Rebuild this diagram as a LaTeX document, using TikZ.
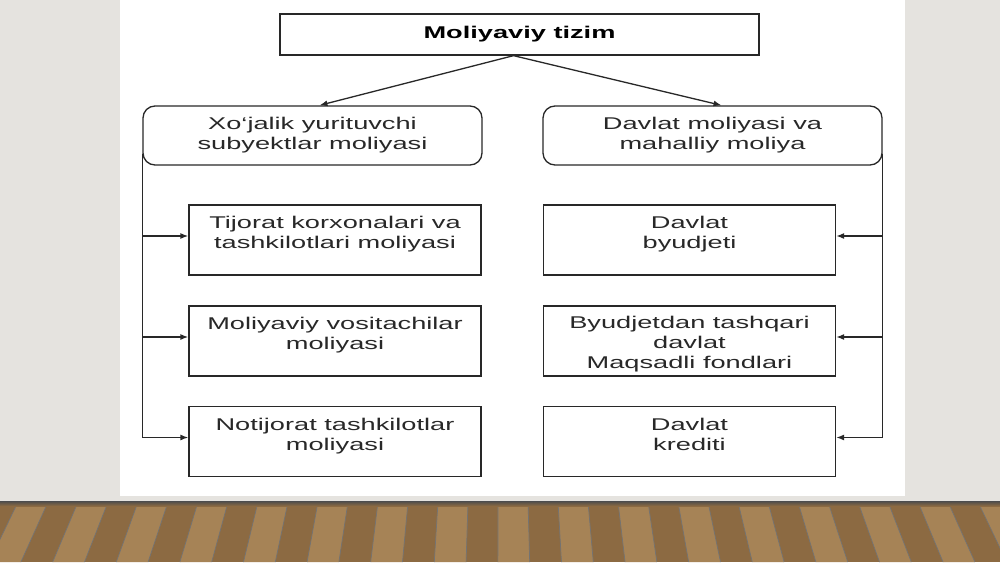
\documentclass[tikz,border=0pt]{standalone}
\usepackage{fontspec}
\setmainfont{Liberation Sans}
\newfontfamily\slidefont[FakeStretch=1.6]{Liberation Sans}
\usetikzlibrary{positioning,arrows.meta}
\definecolor{wall}{RGB}{229,227,223}
\definecolor{wood}{RGB}{140,106,66}
\definecolor{lightwood}{RGB}{166,131,86}
\definecolor{ink}{RGB}{40,40,40}
\tikzset{
  box/.style={draw=ink, line width=1.3pt, inner sep=0pt, text=ink},
  headbox/.style={box, minimum width=479pt, minimum height=41pt,
    font=\slidefont\bfseries\fontsize{17}{20}\selectfont, text=black},
  groupbox/.style={box, rounded corners=12pt, minimum width=339pt, minimum height=59pt,
    align=center, font=\slidefont\fontsize{17}{20}\selectfont},
  leafbox/.style={box, minimum width=292pt, minimum height=70pt},
  leaftext/.style={inner sep=0pt, align=center, text=ink,
    font=\slidefont\fontsize{17}{20}\selectfont},
  link/.style={draw=ink, line width=1.3pt},
  arr/.style={link, -{Latex[length=8pt,width=6pt]}}
}
\begin{document}
\begin{tikzpicture}[x=1pt,y=-1pt]
  \useasboundingbox (0,0) rectangle (1000,562);
  \fill[wall] (0,0) rectangle (1000,562);
  \fill[white] (120,0) rectangle (905,496);
  % floor
  \fill[wood] (0,502) rectangle (1000,562);
  \foreach \i in {0,...,34} {
    \pgfmathsetmacro\xa{\i*30-12}
    \pgfmathsetmacro\xb{\xa+30}
    \ifodd\i
      \fill[lightwood] (\xa,502) -- (\xb,502) -- ({500+(\xb-500)*1.06},562) -- ({500+(\xa-500)*1.06},562) -- cycle;
    \fi
    \draw[black!55, line width=0.7pt] (\xa,502) -- ({500+(\xa-500)*1.06},562);
  }
  \shade[top color=black!70, bottom color=wood] (0,501) rectangle (1000,506);

  \node[headbox] (top) at (519.5,34.5) {Moliyaviy tizim};
  \node[groupbox] (xo) at (312.5,135.5) {Xo‘jalik yurituvchi\\subyektlar moliyasi};
  \node[groupbox] (dav) at (712.5,135.5) {Davlat moliyasi va\\mahalliy moliya};

  % left column
  \node[leafbox] (tk) at (335,240) {};
  \node[leaftext, below=12pt of tk.north] (tkt) {Tijorat korxonalari va\\tashkilotlari moliyasi};
  \node[leafbox] (mv) at (335,341) {};
  \node[leaftext, below=12pt of mv.north] (mvt) {Moliyaviy vositachilar\\moliyasi};
  \node[leafbox] (nt) at (335,441.5) {};
  \node[leaftext, below=12pt of nt.north] (ntt) {Notijorat tashkilotlar\\moliyasi};

  % right column
  \node[leafbox] (db) at (689.5,240) {};
  \node[leaftext, below=12pt of db.north] (dbt) {Davlat\\byudjeti};
  \node[leafbox] (bt) at (689.5,341) {};
  \node[leaftext, below=11pt of bt.north] (btt) {Byudjetdan tashqari\\davlat\\Maqsadli fondlari};
  \node[leafbox] (kr) at (689.5,441.5) {};
  \node[leaftext, below=12pt of kr.north] (krt) {Davlat\\krediti};

  \coordinate (tkin) at ([yshift=4pt]tk.west);
  \coordinate (mvin) at ([yshift=4pt]mv.west);
  \coordinate (ntin) at ([yshift=4pt]nt.west);
  \coordinate (dbin) at ([yshift=4pt]db.east);
  \coordinate (btin) at ([yshift=4pt]bt.east);
  \coordinate (krin) at ([yshift=4pt]kr.east);

  \draw[arr] ([xshift=-6pt]top.south) -- ([xshift=7pt]xo.north);
  \draw[arr] ([xshift=-6pt]top.south) -- ([xshift=9pt]dav.north);

  \draw[link] ([yshift=12pt]xo.south west) -- (xo.west |- ntin);
  \draw[arr] (xo.west |- tkin) -- (tkin);
  \draw[arr] (xo.west |- mvin) -- (mvin);
  \draw[arr] (xo.west |- ntin) -- (ntin);

  \draw[link] ([yshift=12pt]dav.south east) -- (dav.east |- krin);
  \draw[arr] (dav.east |- dbin) -- (dbin);
  \draw[arr] (dav.east |- btin) -- (btin);
  \draw[arr] (dav.east |- krin) -- (krin);
\end{tikzpicture}
\end{document}
